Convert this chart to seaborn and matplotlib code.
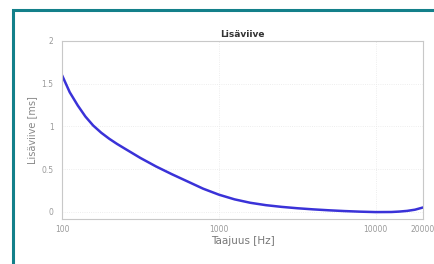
import numpy as np
import pandas as pd
import seaborn as sns
import matplotlib.pyplot as plt
from matplotlib.patches import Rectangle
from matplotlib.ticker import FixedLocator, FixedFormatter, NullLocator

sns.set_theme(style="white")

# Taajuus [Hz] ja lisäviive [ms], luettu kuvasta
freq = [100, 112, 126, 141, 158, 178, 200, 224, 251, 316, 398, 501, 631, 794,
        1000, 1259, 1585, 1995, 2512, 3162, 3981, 5012, 6310, 7943, 10000,
        12589, 14125, 15849, 17783, 20000]
delay = [1.60, 1.40, 1.245, 1.115, 1.01, 0.925, 0.855, 0.795, 0.74, 0.63, 0.53,
         0.44, 0.355, 0.27, 0.20, 0.145, 0.105, 0.077, 0.057, 0.041, 0.028, 0.017,
         0.008, 0.001, -0.004, -0.003, 0.002, 0.01, 0.024, 0.05]
xticks = [100, 1000, 10000, 20000]
xticklabels = ["100", "1000", "10000", "20000"]
yticks = [0, 0.5, 1, 1.5, 2]
yticklabels = ["0", "0.5", "1", "1.5", "2"]

df = pd.DataFrame({"Taajuus": freq, "Lisaviive": delay})

fig = plt.figure(figsize=(4.35, 2.64), dpi=100)
ax = fig.add_axes([62 / 435, 1 - 219 / 264, (423 - 62) / 435, (219 - 41) / 264])

sns.lineplot(data=df, x="Taajuus", y="Lisaviive", ax=ax, color="#3a32d8", linewidth=1.8)

ax.set_xscale("log")
ax.set_xlim(100, 20000)
ax.set_ylim(-0.085, 2)
ax.xaxis.set_major_locator(FixedLocator(xticks))
ax.xaxis.set_major_formatter(FixedFormatter(xticklabels))
ax.xaxis.set_minor_locator(NullLocator())
ax.set_yticks(yticks)
ax.set_yticklabels(yticklabels)

ax.grid(True, color="#e8e8e8", linestyle=":", linewidth=0.6)
for s in ax.spines.values():
    s.set_color("#c8c8c8")
    s.set_linewidth(0.8)
ax.tick_params(axis="both", labelsize=5.5, colors="#9a9a9a", length=2, width=0.5, pad=4)
ax.tick_params(axis="x", pad=2)

ax.set_title("Lisäviive", fontsize=6.5, fontweight="bold", color="#333333", pad=3)
ax.set_xlabel("Taajuus [Hz]", fontsize=7.5, color="#777777", labelpad=2)
ax.set_ylabel("Lisäviive [ms]", fontsize=7, color="#888888", labelpad=3)

# teal-kehys
fig.add_artist(Rectangle((13.5 / 435, -0.05), 1.0, 1 - 10.3 / 264 + 0.05,
                         transform=fig.transFigure, fill=False,
                         edgecolor="#13808a", linewidth=2.2, clip_on=False))

fig.savefig("out.png", dpi=100)
